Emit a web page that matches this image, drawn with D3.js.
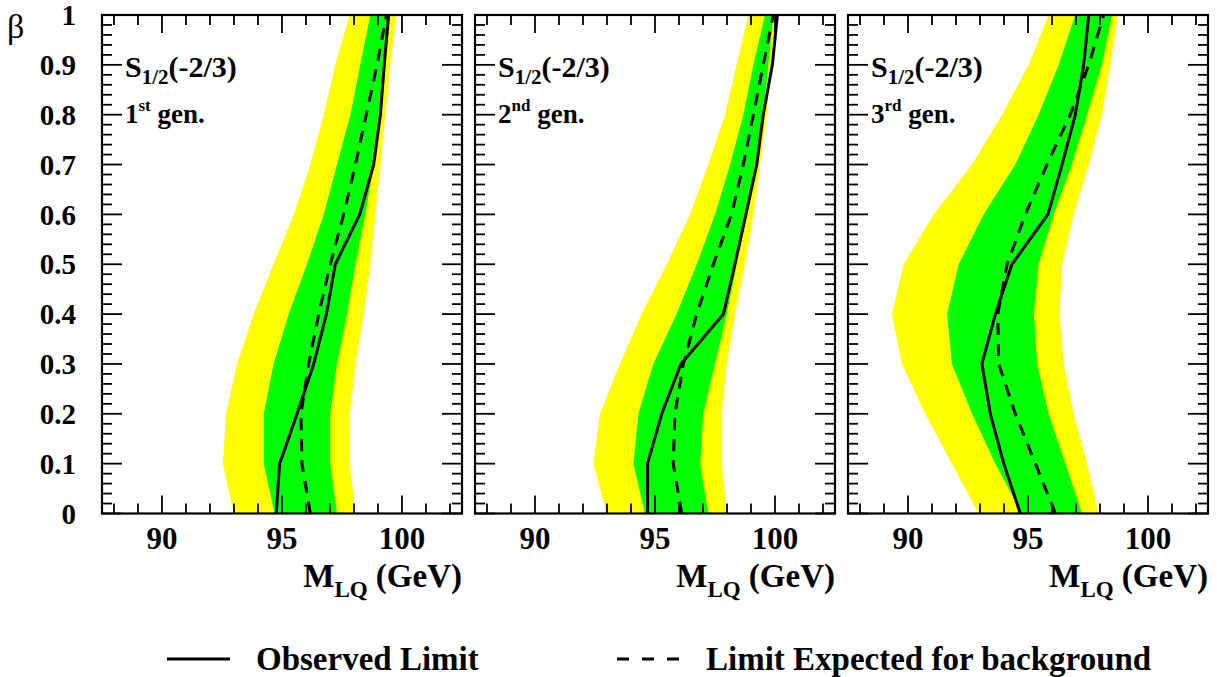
<!DOCTYPE html>
<html>
<head>
<meta charset="utf-8">
<script src="https://cdn.jsdelivr.net/npm/d3@7"></script>
<style>
  html, body { margin: 0; padding: 0; background: #fff; }
  svg { display: block; }
  text { font-family: "Liberation Serif", "Times New Roman", serif; fill: #000; }
</style>
</head>
<body>
<svg id="chart" width="1217" height="677"></svg>
<script>
// ---------- data ----------
const betas = [0, 0.1, 0.2, 0.3, 0.4, 0.5, 0.6, 0.7, 0.8, 0.9, 1.0];
const xTickValues = [90, 95, 100];
const yTickLabels = ["0", "0.1", "0.2", "0.3", "0.4", "0.5", "0.6", "0.7", "0.8", "0.9", "1"];
const genNumbers = ["1", "2", "3"];
const genSuffixes = ["st", "nd", "rd"];
const modelName = "S";
const modelSub = "1/2";
const modelCharge = "(-2/3)";
const legendLabels = ["Observed Limit", "Limit Expected for background"];

// panel 1 (1st generation)
const yellowLo1 = [92.99, 92.54, 92.67, 93.13, 93.82, 94.65, 95.49, 96.18, 96.74, 97.22, 97.82];
const greenLo1  = [94.69, 94.24, 94.24, 94.65, 95.28, 96.04, 96.74, 97.29, 97.85, 98.26, 98.68];
const greenHi1  = [97.29, 97.01, 97.01, 97.29, 97.71, 98.06, 98.47, 98.82, 99.03, 99.31, 99.51];
const yellowHi1 = [98.06, 97.82, 97.82, 98.06, 98.40, 98.68, 98.89, 99.10, 99.31, 99.51, 99.76];
const observed1 = [94.76, 94.90, 95.63, 96.32, 96.85, 97.22, 98.24, 98.82, 99.10, 99.26, 99.44];
const expected1 = [96.18, 95.83, 95.79, 96.11, 96.53, 97.01, 97.57, 98.06, 98.51, 98.96, 99.35];

// panel 2 (2nd generation)
const yellowLo2 = [92.99, 92.43, 92.71, 93.54, 94.44, 95.49, 96.46, 97.22, 97.92, 98.40, 98.89];
const greenLo2  = [94.58, 94.10, 94.31, 94.93, 95.90, 96.74, 97.50, 98.13, 98.68, 99.10, 99.58];
const greenHi2  = [97.22, 96.88, 97.01, 97.50, 97.99, 98.40, 98.82, 99.17, 99.51, 99.72, 99.93];
const yellowHi2 = [97.99, 97.78, 97.78, 97.99, 98.33, 98.75, 99.10, 99.38, 99.65, 99.86, 100.14];
const observed2 = [94.69, 94.69, 95.28, 96.08, 97.85, 98.33, 98.79, 99.24, 99.51, 99.89, 100.10];
const expected2 = [96.11, 95.76, 95.83, 96.18, 96.74, 97.43, 98.19, 98.68, 99.10, 99.51, 99.93];

// panel 3 (3rd generation)
const yellowLo3 = [92.94, 91.83, 90.72, 89.75, 89.33, 89.82, 91.07, 92.67, 93.92, 95.03, 95.86];
const greenLo3  = [94.75, 93.64, 92.67, 91.83, 91.63, 92.11, 93.15, 94.47, 95.44, 96.28, 96.97];
const greenHi3  = [97.25, 96.56, 95.86, 95.38, 95.24, 95.44, 96.07, 96.83, 97.46, 98.08, 98.50];
const yellowHi3 = [97.94, 97.46, 96.90, 96.49, 96.31, 96.42, 96.90, 97.53, 98.08, 98.43, 98.75];
const observed3 = [94.68, 93.99, 93.43, 93.08, 93.64, 94.33, 95.83, 96.42, 96.97, 97.32, 97.53];
const expected3 = [96.14, 95.31, 94.47, 93.78, 93.74, 94.13, 94.89, 95.79, 96.76, 97.53, 98.15];

const panels = [
  { yl: yellowLo1, gl: greenLo1, gh: greenHi1, yh: yellowHi1, obs: observed1, exp: expected1 },
  { yl: yellowLo2, gl: greenLo2, gh: greenHi2, yh: yellowHi2, obs: observed2, exp: expected2 },
  { yl: yellowLo3, gl: greenLo3, gh: greenHi3, yh: yellowHi3, obs: observed3, exp: expected3 }
];

// ---------- layout ----------
const panelLefts = [102, 475, 848];
const panelW = 360;
const plotTop = 15, plotBottom = 513.5;
const svg = d3.select("#chart");

const y = d3.scaleLinear().domain([0, 1]).range([plotBottom, plotTop]);

panels.forEach((p, i) => {
  const x0 = panelLefts[i];
  const x = d3.scaleLinear().domain([87.5, 102.5]).range([x0, x0 + panelW]);
  const g = svg.append("g");

  const clipId = "clip" + i;
  svg.append("clipPath").attr("id", clipId).append("rect")
    .attr("x", x0).attr("y", plotTop).attr("width", panelW).attr("height", plotBottom - plotTop);

  const plot = g.append("g").attr("clip-path", `url(#${clipId})`);
  const idx = betas.map((b, k) => k);

  const bandPath = (lo, hi) => {
    const pts = idx.map(k => [x(lo[k]), y(betas[k])])
      .concat(idx.slice().reverse().map(k => [x(hi[k]), y(betas[k])]));
    return d3.line()(pts) + "Z";
  };
  plot.append("path").attr("d", bandPath(p.yl, p.yh)).attr("fill", "#ffff00");
  plot.append("path").attr("d", bandPath(p.gl, p.gh)).attr("fill", "#00ff00");

  const line = d3.line().x(k => x(p.obs[k])).y(k => y(betas[k]));
  plot.append("path").attr("d", line(idx)).attr("fill", "none")
    .attr("stroke", "#000").attr("stroke-width", 3).attr("stroke-linejoin", "round");
  const eline = d3.line().x(k => x(p.exp[k])).y(k => y(betas[k]));
  plot.append("path").attr("d", eline(idx)).attr("fill", "none")
    .attr("stroke", "#000").attr("stroke-width", 3).attr("stroke-dasharray", "12,9");

  // ticks
  const ax = g.append("g").attr("stroke", "#000").attr("stroke-width", 1.8);
  const xMinor = d3.range(88, 103, 1);
  xMinor.forEach(v => {
    const len = xTickValues.includes(v) ? 18 : 10;
    ax.append("line").attr("x1", x(v)).attr("x2", x(v)).attr("y1", plotBottom).attr("y2", plotBottom - len);
    ax.append("line").attr("x1", x(v)).attr("x2", x(v)).attr("y1", plotTop).attr("y2", plotTop + len);
  });
  const yMinor = d3.range(0, 51).map(k => k / 50);
  yMinor.forEach((v, k) => {
    const len = (k % 5 === 0) ? 20 : 10;
    ax.append("line").attr("y1", y(v)).attr("y2", y(v)).attr("x1", x0).attr("x2", x0 + len);
    ax.append("line").attr("y1", y(v)).attr("y2", y(v)).attr("x1", x0 + panelW).attr("x2", x0 + panelW - len);
  });

  // frame
  g.append("rect").attr("x", x0).attr("y", plotTop).attr("width", panelW).attr("height", plotBottom - plotTop)
    .attr("fill", "none").attr("stroke", "#000").attr("stroke-width", 2.2);

  // x tick labels
  xTickValues.forEach(v => {
    g.append("text").attr("x", x(v)).attr("y", 549).attr("text-anchor", "middle")
      .attr("font-size", 31).attr("font-weight", "bold").text(v);
  });

  // x title
  const xt = g.append("text").attr("x", x0 + panelW).attr("y", 587).attr("text-anchor", "end")
    .attr("font-size", 33).attr("font-weight", "bold");
  xt.append("tspan").text("M");
  xt.append("tspan").attr("font-size", 23).attr("dy", 10).text("LQ");
  xt.append("tspan").attr("dy", -10).text(" (GeV)");

  // model label
  const ml = g.append("text").attr("x", x0 + 23).attr("y", 77).attr("font-size", 30).attr("font-weight", "bold");
  ml.append("tspan").text(modelName);
  ml.append("tspan").attr("font-size", 21).attr("dy", 7).text(modelSub);
  ml.append("tspan").attr("dy", -7).text(modelCharge);

  const gl = g.append("text").attr("x", x0 + 23).attr("y", 123).attr("font-size", 27).attr("font-weight", "bold");
  gl.append("tspan").text(genNumbers[i]);
  gl.append("tspan").attr("font-size", 17).attr("dy", -12).text(genSuffixes[i]);
  gl.append("tspan").attr("dy", 12).text(" gen.");
});

// y tick labels
yTickLabels.forEach((lab, k) => {
  svg.append("text").attr("x", 76).attr("y", y(betas[k])).attr("dy", "0.35em")
    .attr("text-anchor", "end").attr("font-size", 29).attr("font-weight", "bold").text(lab);
});
svg.append("text").attr("x", 7).attr("y", 38).attr("font-size", 34).text("β");

// legend
svg.append("line").attr("x1", 167).attr("x2", 230).attr("y1", 659).attr("y2", 659)
  .attr("stroke", "#000").attr("stroke-width", 3);
svg.append("text").attr("x", 256).attr("y", 670).attr("font-size", 33).attr("font-weight", "bold").text(legendLabels[0]);
svg.append("line").attr("x1", 617).attr("x2", 679).attr("y1", 659).attr("y2", 659)
  .attr("stroke", "#000").attr("stroke-width", 3).attr("stroke-dasharray", "12,13");
svg.append("text").attr("x", 706).attr("y", 670).attr("font-size", 33).attr("font-weight", "bold").text(legendLabels[1]);
</script>
</body>
</html>
